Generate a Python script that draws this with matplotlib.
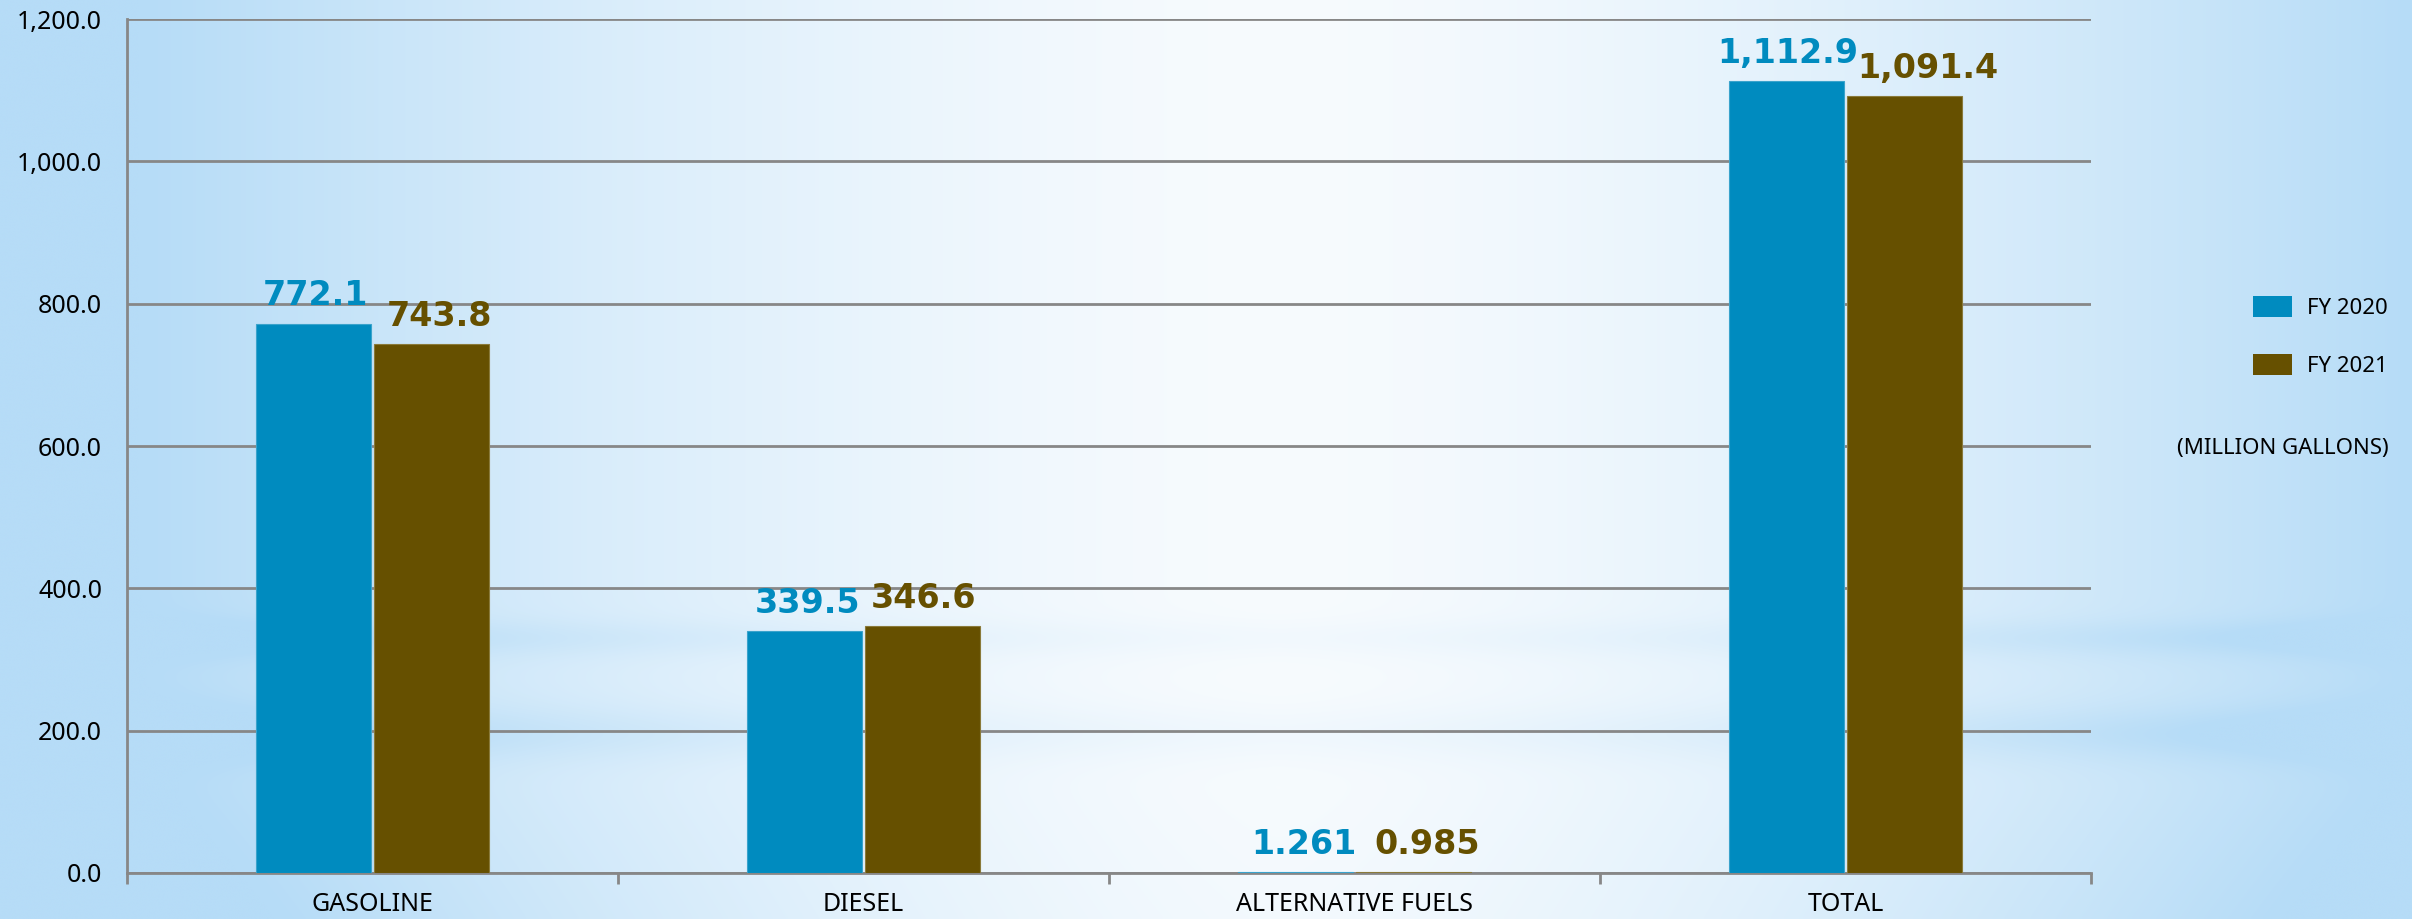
import matplotlib
matplotlib.use("Agg")
import matplotlib.pyplot as plt
import numpy as np
from matplotlib.patches import Patch

categories = ["GASOLINE", "DIESEL", "ALTERNATIVE FUELS", "TOTAL"]
fy2020 = [772.1, 339.5, 1.261, 1112.9]
fy2021 = [743.8, 346.6, 0.985, 1091.4]
labels_2020 = ["772.1", "339.5", "1.261", "1,112.9"]
labels_2021 = ["743.8", "346.6", "0.985", "1,091.4"]
series_names = ["FY 2020", "FY 2021"]

BLUE = "#008bbf"
BROWN = "#665000"
GRID = "#878787"

plt.rcParams["font.family"] = ["Noto Sans", "DejaVu Sans"]

W, H, DPI = 2412, 919, 100
fig = plt.figure(figsize=(W / DPI, H / DPI), dpi=DPI)

# ── background: pale blue gradient with soft horizontal bands ──────────────
bg_ax = fig.add_axes([0, 0, 1, 1], zorder=-10)
xx = np.linspace(0, 1, 600)[None, :]
yy = np.linspace(0, 1, 300)[:, None]
edge = np.clip(np.abs(xx - 0.53) / 0.47, 0, 1) ** 1.5
band = (np.exp(-((yy - 0.695) / 0.02) ** 2) * 0.28
        + np.exp(-((yy - 0.80) / 0.03) ** 2) * 0.35
        + np.clip((yy - 0.82) / 0.18, 0, 1) * 0.2)
blend = np.clip(edge + band * (0.3 + 0.7 * edge), 0, 1)
white = np.array([247, 251, 254]) / 255
blue = np.array([182, 220, 247]) / 255
img = white[None, None, :] * (1 - blend[..., None]) + blue[None, None, :] * blend[..., None]
bg_ax.imshow(img, aspect="auto", extent=[0, 1, 0, 1], interpolation="bicubic")
bg_ax.axis("off")

# ── bar chart ─────────────────────────────────────────────────────────────
ax = fig.add_axes([127 / W, 46 / H, (2091 - 127) / W, (873 - 19) / H])
ax.patch.set_alpha(0)

x = np.arange(len(categories))
bw = 0.234
b1 = ax.bar(x - bw / 2 - 0.003, fy2020, width=bw, color=BLUE, edgecolor="#3aa3cc",
            linewidth=0.8, zorder=3, label=series_names[0])
b2 = ax.bar(x + bw / 2 + 0.003, fy2021, width=bw, color=BROWN, edgecolor="#8a7a3a",
            linewidth=0.8, zorder=3, label=series_names[1])

# small horizontal nudges (points) so neighbouring labels don't collide
nudge_2020 = [1, 2, 6, 1]
nudge_2021 = [6, 1, 10, 17]
for bars, labs, col, nudge in ((b1, labels_2020, BLUE, nudge_2020),
                               (b2, labels_2021, BROWN, nudge_2021)):
    for bar, lab, dx in zip(bars, labs, nudge):
        ax.annotate(lab, (bar.get_x() + bar.get_width() / 2, bar.get_height()),
                    xytext=(dx, 13), textcoords="offset points", ha="center",
                    va="baseline", fontsize=24, fontweight="bold", color=col,
                    family="DejaVu Sans", zorder=5)

ax.set_xlim(-0.5, len(categories) - 0.5)
ax.set_ylim(0, 1200)
ax.set_yticks(np.arange(0, 1201, 200))
ax.set_yticklabels([f"{v:,.1f}" for v in np.arange(0, 1201, 200)], fontsize=18)
ax.set_xticks(x)
ax.set_xticklabels(categories, fontsize=18)
ax.set_xticks(np.arange(-0.5, len(categories)), minor=True)
ax.tick_params(axis="x", which="major", length=0, pad=14)
ax.tick_params(axis="x", which="minor", length=8, width=2, color=GRID)
ax.tick_params(axis="y", length=0, pad=18)

ax.grid(axis="y", color=GRID, linewidth=2, zorder=0)
ax.set_axisbelow(True)
for s in ("top", "right"):
    ax.spines[s].set_visible(False)
for s in ("left", "bottom"):
    ax.spines[s].set_color(GRID)
    ax.spines[s].set_linewidth(2)

handles = [Patch(facecolor=BLUE), Patch(facecolor=BROWN)]
fig.legend(handles, series_names, loc="upper left",
           bbox_to_anchor=(2253 / W, 1 - 296 / H), frameon=False, fontsize=16,
           borderpad=0, borderaxespad=0, handlelength=1.75, handleheight=1.1,
           handletextpad=0.7, labelspacing=1.55)
fig.text(2389 / W, 1 - 448 / H, "(MILLION GALLONS)", ha="right", va="center",
         fontsize=16)

fig.savefig("out.png", dpi=DPI)
